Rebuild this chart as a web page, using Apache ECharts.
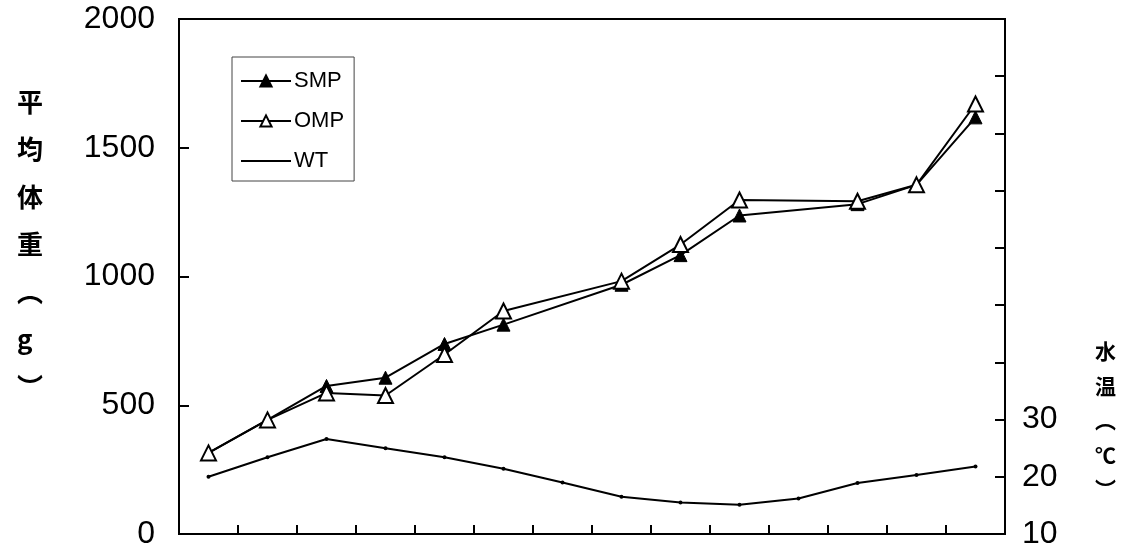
<!DOCTYPE html>
<html>
<head>
<meta charset="utf-8">
<script src="https://cdn.jsdelivr.net/npm/echarts@6/dist/echarts.min.js"></script>
<style>
html,body{margin:0;padding:0;background:#fff;}
#c{width:1132px;height:554px;}
</style>
</head>
<body>
<div id="c"></div>
<script>
// ---- data ----
const categories = ['1','2','3','4','5','6','7','8','9','10','11','12','13','14'];
const smp = [315, 443, 575, 607, 738, 813, null, 968, 1083, 1237, null, 1281, 1356, 1618];
const omp = [315, 443, 548, 538, 697, 866, null, 982, 1124, 1297, null, 1292, 1356, 1670];
const wt  = [20.0, 23.4, 26.6, 25.0, 23.4, 21.4, 19.0, 16.5, 15.5, 15.1, 16.2, 18.9, 20.3, 21.8];
const leftTicks = [0, 500, 1000, 1500, 2000];
const rightLabels = [10, 20, 30];
const leftTitle = '平\n均\n体\n重\n︵\ng\n︶';
const rightTitle = '水\n温\n︵\n℃\n︶';

const FONT = '"Liberation Sans", Arial, sans-serif';
const chart = echarts.init(document.getElementById('c'), null, {renderer: 'canvas'});
chart.setOption({
  animation: false,
  backgroundColor: '#fff',
  grid: {left: 179, right: 127, top: 19, bottom: 20, show: true, borderColor: '#000', borderWidth: 2, backgroundColor: 'transparent'},
  legend: {
    orient: 'vertical', left: 232, top: 57,
    padding: [13, 10, 9, 8],
    itemWidth: 50, itemHeight: 14, itemGap: 18,
    borderColor: '#444', borderWidth: 1,
    textStyle: {fontFamily: FONT, fontSize: 22, color: '#000', lineHeight: 22, padding: [0,0,0,-2]},
    data: [
      {name: 'SMP'},
      {name: 'OMP'},
      {name: 'WT', icon: 'path://M0,0 L50,0 L50,2 L0,2 Z', itemStyle: {color: '#000'}}
    ]
  },
  xAxis: {
    type: 'category', data: categories, boundaryGap: true,
    axisLine: {show: true, lineStyle: {color: '#000', width: 2}},
    axisTick: {show: true, inside: true, length: 9, interval: 0, lineStyle: {color: '#000', width: 2}},
    axisLabel: {show: false},
    splitLine: {show: false}
  },
  yAxis: [
    {
      type: 'value', min: leftTicks[0], max: leftTicks[leftTicks.length-1], interval: 500,
      axisLine: {show: true, lineStyle: {color: '#000', width: 2}},
      axisTick: {show: true, inside: true, length: 10, lineStyle: {color: '#000', width: 2}},
      axisLabel: {margin: 24, fontFamily: FONT, fontSize: 32, color: '#000', formatter: v => String(v)},
      splitLine: {show: false}
    },
    {
      type: 'value', position: 'right', min: 10, max: 100, interval: 10,
      axisLine: {show: true, lineStyle: {color: '#000', width: 2}},
      axisTick: {show: true, inside: true, length: 10, lineStyle: {color: '#000', width: 2}},
      axisLabel: {margin: 17, fontFamily: FONT, fontSize: 32, color: '#000',
        formatter: v => rightLabels.indexOf(v) >= 0 ? String(v) : ''},
      splitLine: {show: false}
    }
  ],
  graphic: [
    {type: 'text', left: 17, top: 78, style: {text: leftTitle, font: 'bold 26px "Noto Sans CJK JP", sans-serif', lineHeight: 47.5, fill: '#000', align: 'center'}},
    {type: 'text', left: 1095, top: 334, style: {text: rightTitle, font: 'bold 21px "Noto Sans CJK JP", sans-serif', lineHeight: 34.5, fill: '#000', align: 'center'}}
  ],
  series: [
    {
      name: 'WT', type: 'line', yAxisIndex: 1, data: wt,
      symbol: 'circle', symbolSize: 4, showSymbol: true,
      lineStyle: {color: '#000', width: 2}, itemStyle: {color: '#000'}, z: 2
    },
    {
      name: 'SMP', type: 'line', data: smp, connectNulls: true,
      symbol: 'triangle', symbolSize: 13,
      lineStyle: {color: '#000', width: 2}, itemStyle: {color: '#000', borderColor: '#000', borderWidth: 1}, z: 3
    },
    {
      name: 'OMP', type: 'line', data: omp, connectNulls: true,
      symbol: 'triangle', symbolSize: 15,
      lineStyle: {color: '#000', width: 2}, itemStyle: {color: '#fff', borderColor: '#000', borderWidth: 2}, z: 4
    }
  ]
});
</script>
</body>
</html>
